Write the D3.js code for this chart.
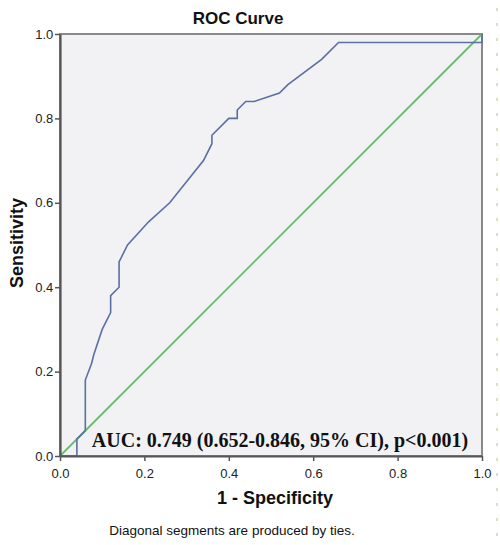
<!DOCTYPE html>
<html>
<head>
<meta charset="utf-8">
<script src="https://cdn.jsdelivr.net/npm/d3@7"></script>
<style>
  body { margin: 0; background: #fff; }
  svg { display: block; }
</style>
</head>
<body>
<svg></svg>
<script>
// ROC points (1 - specificity, sensitivity)
var fpr = [0, 0.04, 0.04, 0.06, 0.06, 0.075, 0.08, 0.10, 0.12, 0.12, 0.14, 0.14, 0.16, 0.21, 0.26, 0.34, 0.36, 0.36, 0.40, 0.42, 0.42, 0.44, 0.46, 0.52, 0.54, 0.62, 0.66, 1.0, 1.0];
var tpr = [0, 0, 0.04, 0.06, 0.18, 0.22, 0.24, 0.30, 0.34, 0.38, 0.40, 0.46, 0.50, 0.555, 0.60, 0.70, 0.74, 0.76, 0.80, 0.80, 0.82, 0.84, 0.84, 0.86, 0.88, 0.94, 0.98, 0.98, 1.0];
var refLine = [0, 1];
var tickValues = [0, 0.2, 0.4, 0.6, 0.8, 1.0];

var svg = d3.select("svg")
  .attr("width", 500)
  .attr("height", 545);

var margins = { top: 34, left: 60, right: 18, bottom: 89 };
var width = 500 - margins.left - margins.right;
var height = 545 - margins.top - margins.bottom;

var xScale = d3.scaleLinear().domain([0, 1]).range([0, width]);
var yScale = d3.scaleLinear().domain([0, 1]).range([height, 0]);

var plot = svg.append("g")
  .attr("transform", "translate(" + margins.left + "," + margins.top + ")");

// background + frame
plot.append("rect")
  .attr("width", width)
  .attr("height", height)
  .attr("fill", "#f2f2f4")
  .attr("stroke", "#8a8a8a")
  .attr("stroke-width", 2);

// reference diagonal
plot.append("line")
  .attr("x1", xScale(refLine[0])).attr("y1", yScale(refLine[0]))
  .attr("x2", xScale(refLine[1])).attr("y2", yScale(refLine[1]))
  .attr("stroke", "#6bbb74")
  .attr("stroke-width", 1.8);

// ROC curve
var pts = fpr.map(function(d, i) { return [d, tpr[i]]; });
var line = d3.line()
  .x(function(d) { return xScale(d[0]); })
  .y(function(d) { return yScale(d[1]); });

plot.append("path")
  .datum(pts)
  .attr("d", line)
  .attr("fill", "none")
  .attr("stroke", "#5b6fa3")
  .attr("stroke-width", 1.6);

// axes
var xAxis = d3.axisBottom(xScale).tickValues(tickValues).tickFormat(d3.format(".1f")).tickSize(5).tickSizeOuter(0);
var yAxis = d3.axisLeft(yScale).tickValues(tickValues).tickFormat(d3.format(".1f")).tickSize(5).tickSizeOuter(0);

var gx = plot.append("g")
  .attr("transform", "translate(0," + height + ")")
  .call(xAxis);
var gy = plot.append("g").call(yAxis);

[gx, gy].forEach(function(g) {
  g.select(".domain").attr("stroke", "#555").attr("stroke-width", 2.2);
  g.selectAll(".tick line").attr("stroke", "#555").attr("stroke-width", 1.5);
  g.selectAll(".tick text")
    .attr("font-family", "Liberation Sans, Arial, sans-serif")
    .attr("font-size", 13)
    .attr("fill", "#222");
});
gx.selectAll(".tick text").attr("dy", "1.05em");
gy.selectAll(".tick text").attr("dx", "0.1em");

// AUC annotation
plot.append("text")
  .attr("x", xScale(0.5) + 9)
  .attr("y", yScale(0) - 9)
  .attr("text-anchor", "middle")
  .attr("font-family", "Liberation Serif, Times New Roman, serif")
  .attr("font-weight", "bold")
  .attr("font-size", 20)
  .attr("fill", "#111")
  .text("AUC: 0.749 (0.652-0.846, 95% CI), p<0.001)");

// titles
svg.append("text")
  .attr("x", 238)
  .attr("y", 24)
  .attr("text-anchor", "middle")
  .attr("font-family", "Liberation Sans, Arial, sans-serif")
  .attr("font-weight", "bold")
  .attr("font-size", 17)
  .attr("fill", "#111")
  .text("ROC Curve");

svg.append("text")
  .attr("transform", "translate(23," + 243 + ") rotate(-90)")
  .attr("text-anchor", "middle")
  .attr("font-family", "Liberation Sans, Arial, sans-serif")
  .attr("font-weight", "bold")
  .attr("font-size", 18)
  .attr("fill", "#111")
  .text("Sensitivity");

svg.append("text")
  .attr("x", 275)
  .attr("y", 504)
  .attr("text-anchor", "middle")
  .attr("font-family", "Liberation Sans, Arial, sans-serif")
  .attr("font-weight", "bold")
  .attr("font-size", 18)
  .attr("fill", "#111")
  .text("1 - Specificity");

svg.append("text")
  .attr("x", 232)
  .attr("y", 535)
  .attr("text-anchor", "middle")
  .attr("font-family", "Liberation Sans, Arial, sans-serif")
  .attr("font-size", 13.5)
  .attr("fill", "#111")
  .text("Diagonal segments are produced by ties.");

// faint dotted strip at the right edge of the scan
svg.append("line")
  .attr("x1", 497).attr("y1", 8)
  .attr("x2", 497).attr("y2", 545)
  .attr("stroke", "#d9d3a6")
  .attr("stroke-width", 1.5)
  .attr("stroke-dasharray", "3,12");
</script>
</body>
</html>
